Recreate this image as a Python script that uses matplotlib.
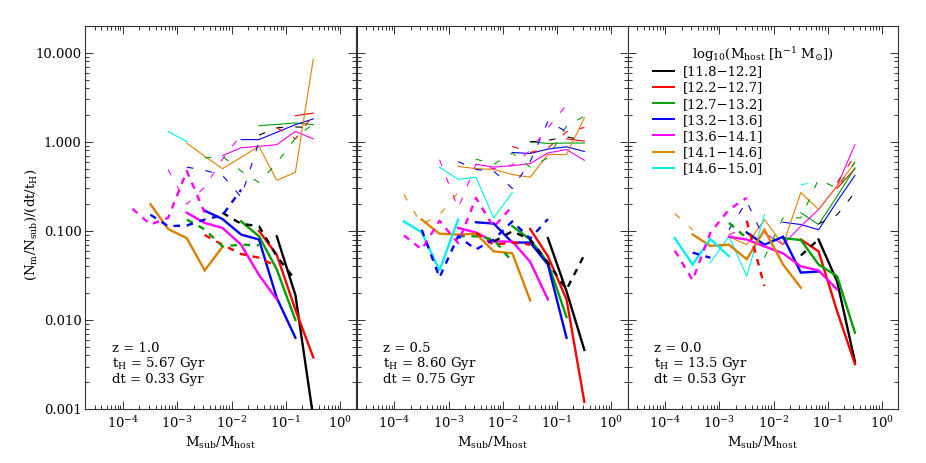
import matplotlib
matplotlib.use('Agg')
import matplotlib.pyplot as plt
from matplotlib.ticker import LogLocator, NullFormatter, FixedLocator, FixedFormatter
from matplotlib.lines import Line2D

plt.rcParams['font.family'] = ['DejaVu Serif']
plt.rcParams['mathtext.fontset'] = 'dejavuserif'

# ---------------- data ----------------
x_bins = [6.8e-5, 1.5e-4, 3.2e-4, 6.8e-4, 1.5e-3, 3.2e-3, 6.8e-3,
          1.5e-2, 3.2e-2, 6.8e-2, 1.5e-1, 3.2e-1]

mass_labels = ['[11.8\u221212.2]', '[12.2\u221212.7]', '[12.7\u221213.2]',
               '[13.2\u221213.6]', '[13.6\u221214.1]', '[14.1\u221214.6]',
               '[14.6\u221215.0]']
mass_keys = ['k', 'r', 'g', 'b', 'm', 'o', 'c']
mass_colors = ['#000000', '#ff0000', '#00a000', '#0000ff', '#ff00ff',
               '#dd8000', '#00f0f0']

# each entry: (first x-bin index, values)
# ---- z = 1.0 ----
z10_thick_solid = {
    'k': (9, [0.087, 0.019, 0.0008]),
    'r': (8, [0.10, 0.054, 0.013, 0.0038]),
    'g': (7, [0.128, 0.087, 0.037, 0.010]),
    'b': (5, [0.169, 0.136, 0.091, 0.080, 0.0177, 0.0063]),
    'm': (4, [0.16, 0.123, 0.108, 0.07, 0.032, 0.017]),
    'o': (2, [0.20, 0.105, 0.083, 0.036, 0.066]),
}
z10_thick_dash = {
    'k': (6, [0.16, 0.12, 0.113, 0.052, 0.028]),
    'r': (5, [0.09, 0.07, 0.055, 0.05, 0.04]),
    'g': (4, [0.134, 0.104, 0.067, 0.07, 0.069]),
    'b': (2, [0.152, 0.113, 0.115, 0.134, 0.15, 0.29]),
    'm': (1, [0.177, 0.118, 0.14, 0.47, 0.16]),
}
z10_thin_solid = {
    'r': (10, [1.97, 2.1]),
    'g': (8, [1.52, 1.57, 1.63, 1.56]),
    'b': (7, [1.06, 1.06, 1.28, 1.56, 1.81]),
    'm': (6, [0.70, 0.86, 0.89, 0.93, 1.31, 1.08]),
    'o': (4, [0.97, 0.69, 0.50, 0.67, 0.89, 0.37, 0.455, 8.5]),
    'c': (3, [1.31, 1.01]),
}
z10_thin_dash = {
    'k': (8, [1.19, 1.44, 1.47, 1.44]),
    'r': (9, [1.44, 1.08, 2.0]),
    'g': (5, [0.66, 0.69, 0.47, 0.35, 0.58, 1.1, 1.6]),
    'b': (4, [0.52, 0.48, 0.42, 0.24, 1.0]),
    'm': (3, [0.49, 0.2, 0.31, 0.64, 1.2]),
}

# ---- z = 0.5 ----
z05_thick_solid = {
    'k': (9, [0.083, 0.021, 0.0046]),
    'r': (8, [0.105, 0.052, 0.017, 0.0012]),
    'g': (7, [0.113, 0.08, 0.044, 0.0108]),
    'b': (5, [0.125, 0.121, 0.074, 0.074, 0.042, 0.0063]),
    'm': (4, [0.108, 0.096, 0.076, 0.076, 0.045, 0.017]),
    'o': (2, [0.134, 0.093, 0.091, 0.093, 0.059, 0.056, 0.0166]),
    'c': (1, [0.128, 0.096, 0.036, 0.134]),
}
z05_thick_dash = {
    'k': (6, [0.076, 0.099, 0.08, 0.044, 0.022, 0.054]),
    'r': (5, [0.095, 0.07, 0.074, 0.07]),
    'g': (4, [0.087, 0.087, 0.08, 0.045]),
    'b': (2, [0.103, 0.030, 0.087, 0.062, 0.08, 0.128, 0.082, 0.136]),
    'm': (1, [0.089, 0.062, 0.13, 0.073, 0.235, 0.11, 0.19]),
}
z05_thin_solid = {
    'r': (10, [1.08, 1.02]),
    'g': (8, [1.0, 0.96, 0.97, 0.97]),
    'b': (7, [0.76, 0.74, 0.83, 0.88, 0.78]),
    'm': (5, [0.56, 0.52, 0.54, 0.57, 0.75, 0.82, 0.62]),
    'o': (4, [0.53, 0.50, 0.49, 0.43, 0.40, 0.72, 0.72, 1.86]),
    'c': (3, [0.52, 0.38, 0.40, 0.14, 0.27]),
}
z05_thin_dash = {
    'k': (8, [1.0, 1.04, 1.14, 1.04]),
    'r': (7, [0.89, 0.76, 0.85, 1.3, 1.45]),
    'g': (5, [0.64, 0.56, 0.75, 0.52, 0.66, 1.5, 1.94]),
    'b': (4, [0.6, 0.49, 0.47, 0.30, 0.6, 1.7, 1.3]),
    'm': (3, [0.63, 0.18, 0.56, 0.5, 0.55, 0.8, 1.44, 2.6]),
    'o': (1, [0.255, 0.118, 0.152, 0.27]),
}

# ---- z = 0.0 ----
z00_thick_solid = {
    'k': (9, [0.08, 0.027, 0.0034]),
    'r': (8, [0.08, 0.059, 0.0125, 0.0032]),
    'g': (7, [0.083, 0.079, 0.042, 0.031, 0.0072]),
    'b': (5, [0.096, 0.07, 0.086, 0.034, 0.035]),
    'm': (4, [0.086, 0.08, 0.067, 0.056, 0.04, 0.036, 0.022]),
    'o': (2, [0.091, 0.068, 0.07, 0.048, 0.103, 0.042, 0.023]),
    'c': (1, [0.083, 0.042, 0.081, 0.052]),
}
z00_thick_dash = {
    'k': (8, [0.053, 0.08]),
    'r': (5, [0.13, 0.024]),
    'g': (4, [0.123, 0.083]),
    'b': (2, [0.057, 0.05]),
    'm': (1, [0.06, 0.028, 0.095, 0.174, 0.235]),
}
z00_thin_solid = {
    'r': (10, [0.3, 0.5]),
    'g': (8, [0.16, 0.118, 0.245, 0.51]),
    'b': (7, [0.125, 0.118, 0.103, 0.215, 0.42]),
    'm': (6, [0.095, 0.07, 0.113, 0.174, 0.32, 0.93]),
    'o': (4, [0.086, 0.07, 0.134, 0.07, 0.27, 0.174, 0.32, 0.58]),
    'c': (3, [0.044, 0.087, 0.031, 0.152]),
}
z00_thin_dash = {
    'k': (9, [0.12, 0.152, 0.27]),
    'r': (10, [0.35, 0.7]),
    'g': (6, [0.05, 0.14, 0.14, 0.38, 0.3, 0.6]),
    'b': (4, [0.103, 0.215, 0.08]),
    'm': (4, [0.09, 0.11]),
    'o': (1, [0.156, 0.103]),
    'c': (8, [0.33, 0.36]),
}

panel_text = [
    ['z = 1.0', r'$\mathrm{t_H}$ = 5.67 Gyr', 'dt = 0.33 Gyr'],
    ['z = 0.5', r'$\mathrm{t_H}$ = 8.60 Gyr', 'dt = 0.75 Gyr'],
    ['z = 0.0', r'$\mathrm{t_H}$ = 13.5 Gyr', 'dt = 0.53 Gyr'],
]
panels = [
    (z10_thin_solid, z10_thin_dash, z10_thick_solid, z10_thick_dash),
    (z05_thin_solid, z05_thin_dash, z05_thick_solid, z05_thick_dash),
    (z00_thin_solid, z00_thin_dash, z00_thick_solid, z00_thick_dash),
]

# ---------------- figure ----------------
W, H = 926, 463
fig = plt.figure(figsize=(W / 100, H / 100), dpi=100)
edges = [85, 356.5, 627.5, 898]
top_px, bot_px = 26, 409
FS = 9.5
axc = '#333333'

thin_lw, thick_lw = 0.8, 1.7
thin_dash = (0, (6, 11))
thick_dash = (0, (2.8, 2.8))

axes = []
for i in range(3):
    ax = fig.add_axes([edges[i] / W, 1 - bot_px / H,
                       (edges[i + 1] - edges[i]) / W, (bot_px - top_px) / H])
    axes.append(ax)
    thin_s, thin_d, thick_s, thick_d = panels[i]
    for style, lw, ls in [(thin_s, thin_lw, '-'), (thin_d, thin_lw, thin_dash),
                          (thick_s, thick_lw, '-'), (thick_d, thick_lw, thick_dash)]:
        for key, col in zip(mass_keys, mass_colors):
            if key in style:
                start, vals = style[key]
                xs = x_bins[start:start + len(vals)]
                ax.plot(xs, vals, color=col, lw=lw, linestyle=ls,
                        solid_joinstyle='miter', clip_on=True)
    ax.set_xscale('log')
    ax.set_yscale('log')
    ax.set_xlim(2e-5, 2)
    ax.set_ylim(1e-3, 20)
    ax.xaxis.set_major_locator(FixedLocator([1e-4, 1e-3, 1e-2, 1e-1, 1e0]))
    ax.xaxis.set_major_formatter(FixedFormatter(
        [r'$10^{-4}$', r'$10^{-3}$', r'$10^{-2}$', r'$10^{-1}$', r'$10^{0}$']))
    ax.xaxis.set_minor_locator(LogLocator(base=10, subs=range(2, 10), numticks=20))
    ax.xaxis.set_minor_formatter(NullFormatter())
    ax.yaxis.set_major_locator(FixedLocator([1e-3, 1e-2, 1e-1, 1e0, 1e1]))
    ax.yaxis.set_minor_locator(LogLocator(base=10, subs=range(2, 10), numticks=20))
    ax.yaxis.set_minor_formatter(NullFormatter())
    if i == 0:
        ax.yaxis.set_major_formatter(FixedFormatter(
            ['0.001', '0.010', '0.100', '1.000', '10.000']))
    else:
        ax.yaxis.set_major_formatter(NullFormatter())
    ax.tick_params(which='both', direction='in', top=True, right=True,
                   colors=axc, labelcolor='black', labelsize=FS, width=0.7)
    ax.tick_params(axis='x', which='major', length=6, pad=4.5)
    ax.tick_params(axis='y', which='major', length=6, pad=2.5)
    ax.tick_params(which='minor', length=3)
    for sp in ax.spines.values():
        sp.set_color(axc)
        sp.set_linewidth(0.8)
    ax.set_xlabel(r'$\mathrm{M_{sub}/M_{host}}$', fontsize=FS)
    ax.xaxis.set_label_coords(0.5, -0.068)
    ys = [0.159, 0.118, 0.076]
    for t, yy in zip(panel_text[i], ys):
        ax.text(0.098, yy, t, transform=ax.transAxes, fontsize=FS,
                ha='left', va='center')

fig.text(0.034, 0.514, r'$\mathrm{(N_m/N_{sub})/(dt/t_H)}$', rotation=90,
         ha='center', va='center', fontsize=FS)

ax3 = axes[2]
handles = [Line2D([], [], color=c, lw=1.4) for c in mass_colors]
leg = ax3.legend(handles, mass_labels, loc='upper left',
                 bbox_to_anchor=(0.095, 0.897), frameon=False, fontsize=FS,
                 handlelength=1.55, handletextpad=0.7, labelspacing=0.24,
                 borderpad=0, borderaxespad=0)
ax3.text(0.24, 0.926, r'$\mathrm{log_{10}(M_{host}\ [h^{-1}\ M_{\odot}])}$',
         transform=ax3.transAxes, fontsize=FS, ha='left', va='center')

fig.savefig('out.png', dpi=100)
